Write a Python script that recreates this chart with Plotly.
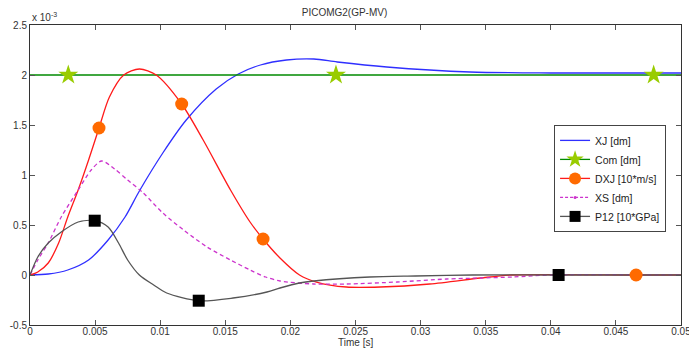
import plotly.graph_objects as go

# ---------------- data (values in units of 1e-3) ----------------
t_xj = [0, 0.0014, 0.0029, 0.0045, 0.006, 0.0073, 0.0084, 0.0102, 0.012, 0.0143,
        0.016, 0.0177, 0.0197, 0.0218, 0.0236, 0.0274, 0.0338, 0.04, 0.05]
xj = [0, 0.01, 0.05, 0.15, 0.35, 0.58, 0.84, 1.22, 1.55, 1.86,
      2.01, 2.10, 2.15, 2.16, 2.13, 2.08, 2.03, 2.02, 2.02]

t_com = [0, 0.00294, 0.0235, 0.0479, 0.05]
com = [2.0, 2.0, 2.0, 2.0, 2.0]
com_marks = [1, 2, 3]

t_dxj = [0, 0.0006, 0.0014, 0.0022, 0.0029, 0.0037, 0.0045, 0.0053, 0.0061, 0.0072,
         0.0084, 0.0097, 0.01165, 0.0133, 0.0154, 0.0169, 0.0179, 0.0192, 0.0207, 0.022,
         0.0243, 0.0269, 0.0307, 0.0346, 0.037, 0.04655, 0.05]
dxj = [0, 0.03, 0.12, 0.32, 0.58, 0.85, 1.15, 1.47, 1.78, 2.0,
       2.06, 2.0, 1.71, 1.35, 0.85, 0.53, 0.36, 0.17, 0.0, -0.07,
       -0.12, -0.12, -0.09, -0.03, 0.0, 0.0, 0.0]
dxj_marks = [7, 12, 16, 25]

t_xs = [0, 0.0006, 0.0014, 0.0024, 0.0037, 0.0047, 0.0055, 0.0065, 0.0075, 0.0087,
        0.0102, 0.0118, 0.0136, 0.0154, 0.0169, 0.0181, 0.0192, 0.0218, 0.0243, 0.0282,
        0.032, 0.0346, 0.0371, 0.04, 0.05]
xs = [0, 0.15, 0.32, 0.58, 0.85, 1.05, 1.14, 1.06, 0.95, 0.82,
      0.62, 0.45, 0.28, 0.15, 0.05, -0.02, -0.06, -0.09, -0.09, -0.07,
      -0.04, -0.03, -0.02, 0.0, 0.0]

t_p12 = [0, 0.0006, 0.0014, 0.0024, 0.0037, 0.00497, 0.006, 0.0068, 0.0075, 0.0084,
         0.0095, 0.0105, 0.01296, 0.0156, 0.0182, 0.0192, 0.0207, 0.0218, 0.0261, 0.0296,
         0.034, 0.0406, 0.05]
p12 = [0, 0.18, 0.32, 0.43, 0.53, 0.543, 0.48, 0.32, 0.15, 0.0,
       -0.1, -0.18, -0.257, -0.23, -0.17, -0.13, -0.08, -0.06, -0.02, -0.01,
       0.0, 0.0, 0.0]
p12_marks = [5, 12, 21]

x_ticks = [0, 0.005, 0.01, 0.015, 0.02, 0.025, 0.03, 0.035, 0.04, 0.045, 0.05]
x_ticklabels = ["0", "0.005", "0.01", "0.015", "0.02", "0.025", "0.03", "0.035", "0.04", "0.045", "0.05"]
y_ticks = [-0.5, 0, 0.5, 1, 1.5, 2, 2.5]
y_ticklabels = ["-0.5", "0", "0.5", "1", "1.5", "2", "2.5"]

names = ["XJ [dm]", "Com [dm]", "DXJ [10*m/s]", "XS [dm]", "P12 [10*GPa]"]

# ---------------- styles ----------------
C_XJ = "#2f2fff"
C_COM = "#008a00"
C_DXJ = "#ff1a1a"
C_XS = "#cc33cc"
C_P12 = "#555555"
STAR = "#99cc00"
CIRC = "#ff6a00"
FONT = "Liberation Sans, Arial, sans-serif"

fig = go.Figure()

def line(t, y, color, dash="solid", width=1.3):
    fig.add_trace(go.Scatter(x=t, y=y, mode="lines", showlegend=False,
                             line=dict(color=color, width=width, dash=dash,
                                       shape="spline", smoothing=0.8),
                             hoverinfo="skip"))

def marks(t, y, idx, symbol, color, size):
    fig.add_trace(go.Scatter(x=[t[i] for i in idx], y=[y[i] for i in idx], mode="markers",
                             showlegend=False,
                             marker=dict(symbol=symbol, color=color, size=size,
                                         line=dict(width=0)),
                             hoverinfo="skip"))

line(t_xj, xj, C_XJ)
line(t_com, com, C_COM)
line(t_dxj, dxj, C_DXJ)
line(t_xs, xs, C_XS, dash="4px,3px")
line(t_p12, p12, C_P12)

marks(t_com, com, com_marks, "star", STAR, 15)
marks(t_dxj, dxj, dxj_marks, "circle", CIRC, 13)
marks(t_p12, p12, p12_marks, "square", "#000000", 12)

# legend-only entries
def leg(name, color, dash="solid", symbol=None, mcolor=None, msize=0):
    mode = "lines+markers" if symbol else "lines"
    kw = dict(x=[None], y=[None], mode=mode, name=name,
              line=dict(color=color, width=1.3, dash=dash))
    if symbol:
        kw["marker"] = dict(symbol=symbol, color=mcolor, size=msize, line=dict(width=0))
    fig.add_trace(go.Scatter(**kw))

leg(names[0], C_XJ)
leg(names[1], C_COM, symbol="star", mcolor=STAR, msize=13)
leg(names[2], C_DXJ, symbol="circle", mcolor=CIRC, msize=12)
leg(names[3], C_XS, dash="3px,2px", symbol="circle", mcolor=C_XS, msize=3)
leg(names[4], C_P12, symbol="square", mcolor="#000000", msize=11)

axis_common = dict(showline=True, linecolor="#333333", linewidth=1, mirror="ticks",
                   ticks="inside", ticklen=5, tickcolor="#555555", tickwidth=1,
                   showgrid=False, zeroline=False, ticklabeloverflow="allow",
                   automargin=False,
                   tickfont=dict(family=FONT, size=10, color="#333333"))

fig.update_layout(
    width=689, height=349,
    margin=dict(l=30, r=8, t=25, b=24, autoexpand=False),
    paper_bgcolor="white", plot_bgcolor="white",
    font=dict(family=FONT, size=10, color="#333333"),
    title=dict(text="PICOMG2(GP-MV)", x=0.5, xanchor="center",
               y=1 - 12 / 349, yanchor="middle", font=dict(family=FONT, size=10, color="#333333")),
    xaxis=dict(range=[0, 0.05], tickvals=x_ticks, ticktext=x_ticklabels,
               ticklabelstandoff=-3, **axis_common),
    yaxis=dict(range=[-0.5, 2.5], tickvals=y_ticks, ticktext=y_ticklabels, **axis_common),
    legend=dict(x=0.805, y=0.667, xanchor="left", yanchor="top",
                bgcolor="white", bordercolor="#444444", borderwidth=1,
                font=dict(family=FONT, size=10.5, color="#222222"),
                itemwidth=30, tracegroupgap=0),
    showlegend=True,
    annotations=[
        dict(text="x 10<sup>-3</sup>", xref="paper", yref="paper", x=0, y=1,
             xanchor="left", yanchor="bottom", showarrow=False, yshift=0,
             font=dict(family=FONT, size=10, color="#333333")),
        dict(text="Time [s]", xref="paper", yref="paper", x=0.5, y=-0.058,
             xanchor="center", yanchor="middle", showarrow=False,
             font=dict(family=FONT, size=10, color="#333333")),
    ],
)

fig.write_html("out.html")
